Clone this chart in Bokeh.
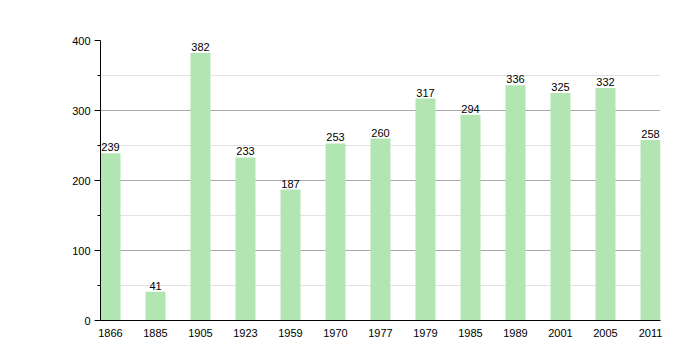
from bokeh.plotting import figure
from bokeh.models import ColumnDataSource, Range1d, FixedTicker, LabelSet
from bokeh.core.properties import value
from bokeh.embed import file_html
from bokeh.resources import INLINE

years = ["1866", "1885", "1905", "1923", "1959", "1970", "1977", "1979", "1985", "1989", "2001", "2005", "2011"]
population = [239, 41, 382, 233, 187, 253, 260, 317, 294, 336, 325, 332, 258]

idx = list(range(len(years)))
src = ColumnDataSource(dict(x=idx, y=population, lab=[str(v) for v in population]))

bw = 20 / 45
p = figure(width=700, height=360, output_backend="svg", toolbar_location=None,
           x_range=Range1d(-bw / 2, len(years) - 1 + bw / 2), y_range=Range1d(0, 400),
           min_border_left=100, min_border_right=40, min_border_top=40, min_border_bottom=40)
p.outline_line_color = None
p.background_fill_color = "white"

p.vbar(x="x", top="y", width=bw, source=src, fill_color="#b3e5b3", line_color=None)

labels = LabelSet(x="x", y="y", text="lab", source=src, text_align="center", text_baseline="bottom",
                  y_offset=2, text_font=value("Liberation Sans"), text_font_size=value("11px"),
                  text_color=value("black"))
p.add_layout(labels)

p.xgrid.grid_line_color = None
p.ygrid.grid_line_color = "#aaaaaa"
p.ygrid.minor_grid_line_color = "#e2e2e2"
p.ygrid.level = "underlay"

p.yaxis.ticker = FixedTicker(ticks=[0, 100, 200, 300, 400], minor_ticks=[50, 150, 250, 350])
p.yaxis.major_tick_out = 6
p.yaxis.major_tick_in = 0
p.yaxis.minor_tick_out = 3
p.yaxis.minor_tick_in = 0
p.yaxis.axis_line_color = "black"
p.yaxis.major_tick_line_color = "black"
p.yaxis.minor_tick_line_color = "black"
p.yaxis.major_label_text_font = "Liberation Sans"
p.yaxis.major_label_text_font_size = "11px"
p.yaxis.major_label_text_color = "black"
p.yaxis.major_label_standoff = 4

p.xaxis.ticker = FixedTicker(ticks=idx)
p.xaxis.major_label_overrides = {i: y for i, y in zip(idx, years)}
p.xaxis.major_tick_line_color = None
p.xaxis.minor_tick_line_color = None
p.xaxis.axis_line_color = "black"
p.xaxis.major_label_text_font = "Liberation Sans"
p.xaxis.major_label_text_font_size = "11px"
p.xaxis.major_label_text_color = "black"
p.xaxis.major_label_standoff = 2

open("out.html", "w").write(file_html(p, INLINE))
